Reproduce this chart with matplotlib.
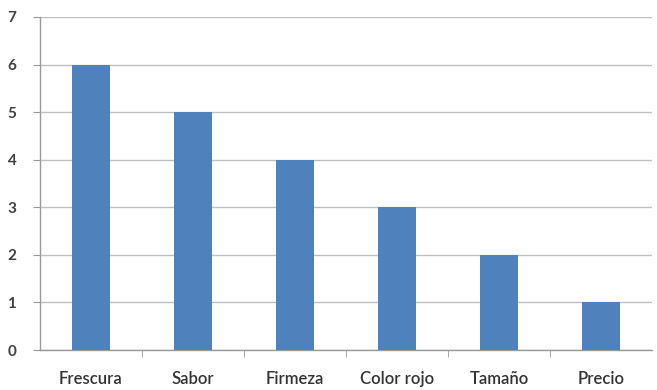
import matplotlib
matplotlib.use("Agg")
import matplotlib.pyplot as plt
import numpy as np

categories = ["Frescura", "Sabor", "Firmeza", "Color rojo", "Tamaño", "Precio"]
values = [6, 5, 4, 3, 2, 1]
yticks = [0, 1, 2, 3, 4, 5, 6, 7]

plt.rcParams['font.family'] = ['Lato', 'DejaVu Sans']

fig = plt.figure(figsize=(6.57, 3.90), dpi=100)
ax = fig.add_axes([40/657, 1-350/390, 612/657, 333/390])

x = np.arange(len(categories))
ax.bar(x, values, width=0.38, color="#4F81BD", zorder=3)

ax.set_xlim(-0.5, len(categories) - 0.5)
ax.set_ylim(0, 7)
ax.set_yticks(yticks)
ax.set_yticklabels([str(v) for v in yticks], fontsize=11, color="#404040", fontweight="bold")
ax.set_xticks(x)
ax.set_xticklabels(categories, fontsize=12, color="#333333", fontweight="semibold")
ax.set_xticks(np.arange(0.5, len(categories) - 0.5, 1), minor=True)

ax.tick_params(axis='x', which='major', length=0, pad=15)
ax.tick_params(axis='x', which='minor', length=5, color="#999999", direction='out')
ax.tick_params(axis='y', which='major', length=5, color="#999999", direction='out', pad=12)

ax.yaxis.grid(True, color="#BFBFBF", linewidth=1.0, zorder=0)
ax.set_axisbelow(True)

for s in ['top', 'right']:
    ax.spines[s].set_visible(False)
ax.spines['left'].set_color("#999999")
ax.spines['bottom'].set_color("#999999")
ax.spines['left'].set_linewidth(1.0)
ax.spines['bottom'].set_linewidth(1.0)

fig.savefig("out.png", dpi=100, facecolor="white")
